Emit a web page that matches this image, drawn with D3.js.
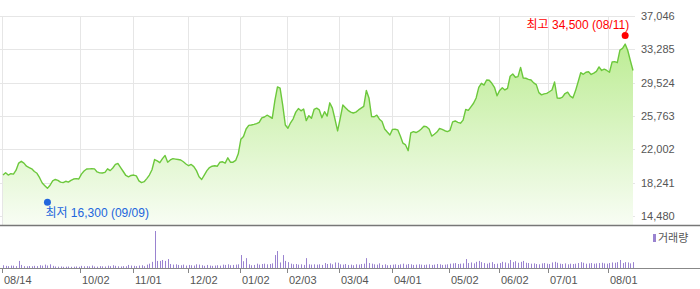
<!DOCTYPE html>
<html>
<head>
<meta charset="utf-8">
<script src="https://cdn.jsdelivr.net/npm/d3@7"></script>
<style>
  body { margin: 0; background: #fff; }
  svg { display: block; font-family: "Liberation Sans", Arial, "Noto Sans CJK KR", sans-serif; }
  .tick-label { fill: #555; font-size: 11px; }
</style>
</head>
<body>
<div id="chart"></div>
<script>
// daily closes, 2024-08-14 .. 2025-08-14 (trading days)
var prices = [
  19100, 19350, 19100, 19250, 19200, 19650, 20450, 20650, 20450, 20100,
  19950, 19800, 19500, 19300, 18800, 18200, 17900, 17600, 17950, 18450,
  18600, 18500, 18300, 18250, 18400, 18300, 18500, 18650, 18700, 18650,
  19200, 19550, 19780, 19800, 19820, 19800, 19450, 19350, 19330, 19400,
  19800, 19600, 19900, 20300, 20400, 19950, 19500, 19050, 18900, 19050,
  19100, 19000, 18450, 18250, 18350, 18700, 19100, 19700, 20850, 20700,
  20500, 20950, 21300, 20550, 20800, 20950, 20900, 20850, 20800, 20600,
  20350, 20150, 20300, 20050, 19600, 18900, 18600, 19100, 19600, 19950,
  20100, 20150, 20100, 20550, 20600, 20450, 21050, 20550, 20550, 20750,
  21500, 23150, 23450, 24300, 24700, 24750, 24820, 24900, 25050, 25550,
  25650, 25850, 25700, 25500, 27500, 29050, 28900, 27000, 24750, 24380,
  25000, 25450, 26200, 26600, 26350, 26550, 25250, 25800, 25500, 26500,
  26650, 26450, 25570, 26250, 25750, 27250, 26650, 25400, 24080, 25500,
  27000, 26700, 26400, 26200, 26100, 26200, 26450, 26650, 26850, 28650,
  27800, 25700, 25680, 25850, 25400, 25150, 24300, 23950, 23620, 24250,
  24270, 24200, 23500, 22700, 22500, 21850, 23850, 24000, 23900, 24050,
  24300, 24600, 24560, 24300, 23500, 23700, 23950, 24350, 24250, 24100,
  24000, 24150, 25100, 25200, 25050, 24950, 25300, 26500, 26400, 26800,
  27200, 27800, 29000, 29450, 29250, 29825, 29800, 29450, 29000, 28050,
  28650, 28950, 28700, 28880, 30250, 30500, 30130, 30200, 31250, 30050,
  30020, 29900, 29825, 29500, 29300, 28400, 28150, 28260, 28320, 28500,
  28700, 29600, 27800, 27760, 27900, 28300, 28450, 28000, 27800, 28600,
  29600, 30650, 30470, 30700, 30760, 30450, 30600, 30800, 31300, 30900,
  31050, 30900, 30700, 31850, 31900, 31780, 33200, 33400, 33880, 33150,
  32000, 30900
];

// volume (thousand shares)
var volumes = [
  45, 35, 30, 40, 38, 30, 115, 50, 30, 28,
  32, 28, 35, 30, 45, 38, 55, 40, 60, 35,
  25, 22, 25, 20, 22, 24, 20, 22, 25, 20,
  35, 28, 30, 26, 40, 25, 22, 30, 28, 25,
  38, 30, 45, 35, 28, 25, 30, 28, 50, 40,
  35, 30, 40, 45, 30, 55, 70, 100, 600, 115,
  115, 130, 115, 145, 65, 55, 60, 50, 45, 55,
  40, 50, 45, 40, 60, 55, 45, 35, 50, 40,
  35, 40, 45, 38, 55, 50, 60, 45, 50, 55,
  60, 210, 110, 160, 60, 45, 50, 70, 55, 65,
  70, 60, 65, 75, 210, 275, 90, 210, 115, 95,
  70, 60, 65, 55, 60, 50, 160, 60, 55, 60,
  55, 60, 50, 80, 65, 75, 60, 90, 85, 60,
  55, 65, 50, 55, 45, 60, 55, 65, 70, 160,
  80, 70, 60, 55, 75, 50, 60, 45, 50, 55,
  60, 50, 60, 70, 55, 65, 60, 50, 55, 60,
  55, 50, 55, 60, 50, 55, 65, 60, 50, 55,
  60, 70, 75, 80, 65, 70, 75, 145, 80, 90,
  75, 100, 115, 95, 80, 70, 85, 95, 65, 70,
  80, 100, 90, 75, 130, 95, 110, 85, 100, 115,
  85, 80, 70, 75, 65, 60, 75, 80, 70, 65,
  90, 100, 85, 70, 65, 75, 60, 70, 65, 70,
  80, 95, 85, 70, 75, 80, 70, 75, 80, 85,
  75, 70, 80, 90, 85, 95, 130, 80, 95, 90,
  75, 95
];

// x-axis ticks: trading-day index and label
var tickIndex = [0, 30, 50, 71, 91, 109, 129, 149, 171, 190, 209, 232];
var tickLabels = ["08/14", "10/02", "11/01", "12/02", "01/02", "02/03", "03/04", "04/01", "05/02", "06/02", "07/01", "08/01"];

var yTicks = [14480, 18241, 22002, 25763, 29524, 33285, 37046];

var highPoint = { index: 238, value: 34500, label: "최고 34,500 (08/11)" };
var lowPoint = { index: 17, value: 16300, label: "최저 16,300 (09/09)" };

var W = 700, H = 289;
var plotLeft = 3, plotRight = 633, plotTop = 16, plotBottom = 225;
var volBase = 268, volTop = 231;

var svg = d3.select("#chart").append("svg")
  .attr("width", W)
  .attr("height", H);

var x = d3.scaleLinear()
  .domain([0, prices.length - 1])
  .range([plotLeft, plotRight]);

var y = d3.scaleLinear()
  .domain([yTicks[0], yTicks[yTicks.length - 1]])
  .range([216, plotTop]);

var vy = d3.scaleLinear()
  .domain([0, d3.max(volumes)])
  .range([volBase, volTop]);

var defs = svg.append("defs");
var grad = defs.append("linearGradient")
  .attr("id", "areaFill")
  .attr("gradientUnits", "userSpaceOnUse")
  .attr("x1", 0).attr("x2", 0)
  .attr("y1", plotTop).attr("y2", plotBottom);
grad.append("stop").attr("offset", "0%").attr("stop-color", "#b4ea86");
grad.append("stop").attr("offset", "100%").attr("stop-color", "#f8fdf4");

// grid
svg.append("g")
  .selectAll("line")
  .data(yTicks)
  .enter()
  .append("line")
  .attr("x1", 0)
  .attr("x2", 635)
  .attr("y1", function (d) { return Math.round(y(d)) + 0.5; })
  .attr("y2", function (d) { return Math.round(y(d)) + 0.5; })
  .attr("stroke", "#e6e6e6");

svg.append("g")
  .selectAll("line")
  .data(tickIndex)
  .enter()
  .append("line")
  .attr("x1", function (d) { return Math.round(x(d)) - 0.5; })
  .attr("x2", function (d) { return Math.round(x(d)) - 0.5; })
  .attr("y1", plotTop)
  .attr("y2", plotBottom)
  .attr("stroke", "#e6e6e6");

// price area + line
var area = d3.area()
  .x(function (d, i) { return x(i); })
  .y0(plotBottom)
  .y1(function (d) { return y(d); });

var line = d3.line()
  .x(function (d, i) { return x(i); })
  .y(function (d) { return y(d); });

svg.append("path")
  .datum(prices)
  .attr("d", area)
  .attr("fill", "url(#areaFill)");

svg.append("path")
  .datum(prices)
  .attr("d", line)
  .attr("fill", "none")
  .attr("stroke", "#6cc83c")
  .attr("stroke-width", 1.4)
  .attr("stroke-linejoin", "round");

// separator under price chart
svg.append("line")
  .attr("x1", 0).attr("x2", W)
  .attr("y1", plotBottom + 0.5).attr("y2", plotBottom + 0.5)
  .attr("stroke", "#777")
  .attr("stroke-width", 1.5);

// y labels (right)
svg.append("g")
  .selectAll("text")
  .data(yTicks)
  .enter()
  .append("text")
  .attr("class", "tick-label")
  .attr("x", 641)
  .attr("y", function (d) { return y(d) + 4; })
  .text(function (d) { return d3.format(",")(d); });

// high / low markers
svg.append("circle")
  .attr("cx", x(highPoint.index))
  .attr("cy", y(highPoint.value) - 3)
  .attr("r", 3.5)
  .attr("fill", "#f00");
svg.append("text")
  .attr("x", x(highPoint.index) + 4)
  .attr("y", y(highPoint.value) - 10)
  .attr("text-anchor", "end")
  .attr("fill", "#f00")
  .style("font-size", "12px")
  .text(highPoint.label);

svg.append("circle")
  .attr("cx", x(lowPoint.index))
  .attr("cy", y(lowPoint.value) + 2.5)
  .attr("r", 3.5)
  .attr("fill", "#2266dd");
svg.append("text")
  .attr("x", x(lowPoint.index) - 2)
  .attr("y", y(lowPoint.value) + 17)
  .attr("fill", "#2266dd")
  .style("font-size", "12px")
  .text(lowPoint.label);

// volume bars
svg.append("g")
  .selectAll("rect")
  .data(volumes)
  .enter()
  .append("rect")
  .attr("x", function (d, i) { return Math.round(x(i)); })
  .attr("width", 1)
  .attr("y", function (d) { return vy(d); })
  .attr("height", function (d) { return volBase - vy(d); })
  .attr("fill", "#9a83d0");

// bottom axis
svg.append("line")
  .attr("x1", 0).attr("x2", W)
  .attr("y1", volBase + 0.5).attr("y2", volBase + 0.5)
  .attr("stroke", "#888");

var xt = svg.append("g")
  .selectAll("g")
  .data(tickIndex)
  .enter()
  .append("g");
xt.append("line")
  .attr("x1", function (d) { return Math.round(x(d)) - 0.5; })
  .attr("x2", function (d) { return Math.round(x(d)) - 0.5; })
  .attr("y1", volBase)
  .attr("y2", volBase + 5)
  .attr("stroke", "#888");
xt.append("text")
  .attr("class", "tick-label")
  .attr("x", function (d) { return Math.round(x(d)) + 1; })
  .attr("y", 284)
  .text(function (d, i) { return tickLabels[i]; });

// legend
svg.append("rect")
  .attr("x", 653).attr("y", 234)
  .attr("width", 3).attr("height", 8)
  .attr("fill", "#9a83d0");
svg.append("text")
  .attr("class", "tick-label")
  .attr("x", 658)
  .attr("y", 242)
  .text("거래량");
</script>
</body>
</html>
